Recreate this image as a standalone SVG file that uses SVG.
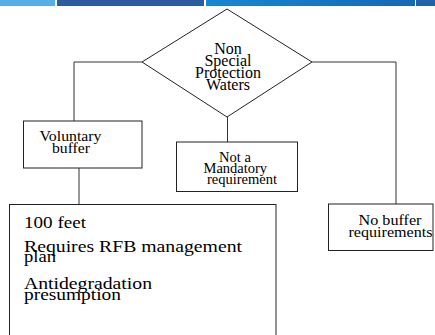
<svg xmlns="http://www.w3.org/2000/svg" width="435" height="335" viewBox="0 0 435 335">
<defs>
<style>
.shape{fill:#fff;stroke:#222;stroke-width:1}
.conn{fill:none;stroke:#333;stroke-width:1}
.t{font-family:'Liberation Serif','DejaVu Serif','Times New Roman',serif;fill:#000}
</style>
<linearGradient id="bar" x1="0" x2="1" y1="0" y2="0">
<stop offset="0" stop-color="#1a86d0"/>
<stop offset="1" stop-color="#1668b4"/>
</linearGradient>
</defs>
<rect width="435" height="335" fill="#fff"/>
<g id="banner">
<rect x="0" y="0" width="55" height="6" fill="#55aee6"/>
<rect x="57" y="0" width="147" height="6" fill="#2c5c9e"/>
<rect x="206" y="0" width="209" height="6" fill="url(#bar)"/>
<rect x="416" y="0" width="19" height="6" fill="#2262aa"/>
</g>
<g id="connectors">
<polyline class="conn" points="142,62 74,62 74,121"/>
<polyline class="conn" points="312,62 396,62 396,204"/>
<line class="conn" x1="227.5" y1="117" x2="227.5" y2="142"/>
<line class="conn" x1="79" y1="168" x2="79" y2="204"/>
</g>
<g id="decision">
<polygon class="shape" points="227,9 312,62 227,117 142,62"/>
<text class="t" font-family="Liberation Serif, serif" font-size="16" text-anchor="middle"><tspan x="228" y="54">Non</tspan><tspan x="228" y="66">Special</tspan><tspan x="228" y="77.5">Protection</tspan><tspan x="228" y="90">Waters</tspan></text>
</g>
<g id="voluntary">
<rect class="shape" x="23.5" y="121" width="118.5" height="47"/>
<text class="t" font-family="Liberation Serif, serif" font-size="14"><tspan x="39.5" y="141" textLength="62" lengthAdjust="spacingAndGlyphs">Voluntary</tspan><tspan x="52" y="153" textLength="38" lengthAdjust="spacingAndGlyphs">buffer</tspan></text>
</g>
<g id="mandatory">
<rect class="shape" x="176.5" y="142" width="121" height="49.5"/>
<text class="t" font-family="Liberation Serif, serif" font-size="14.5"><tspan x="219" y="162">Not a</tspan><tspan x="203.5" y="173">Mandatory</tspan><tspan x="207" y="184">requirement</tspan></text>
</g>
<g id="nobuffer">
<rect class="shape" x="328.5" y="204" width="104.5" height="46.5"/>
<text class="t" font-family="Liberation Serif, serif" font-size="14"><tspan x="358.5" y="225" textLength="63" lengthAdjust="spacingAndGlyphs">No buffer</tspan><tspan x="348.5" y="236.5" textLength="84" lengthAdjust="spacingAndGlyphs">requirements</tspan></text>
</g>
<g id="details">
<rect class="shape" x="9.5" y="204.5" width="266.5" height="140"/>
<text class="t" font-family="Liberation Serif, serif" font-size="16"><tspan x="24" y="228" textLength="62" lengthAdjust="spacingAndGlyphs">100 feet</tspan><tspan x="24" y="251.5" textLength="218" lengthAdjust="spacingAndGlyphs">Requires RFB management</tspan><tspan x="24" y="261.5" textLength="32" lengthAdjust="spacingAndGlyphs">plan</tspan><tspan x="24" y="289" textLength="128" lengthAdjust="spacingAndGlyphs">Antidegradation</tspan><tspan x="24" y="299.5" textLength="97" lengthAdjust="spacingAndGlyphs">presumption</tspan></text>
</g>
</svg>
